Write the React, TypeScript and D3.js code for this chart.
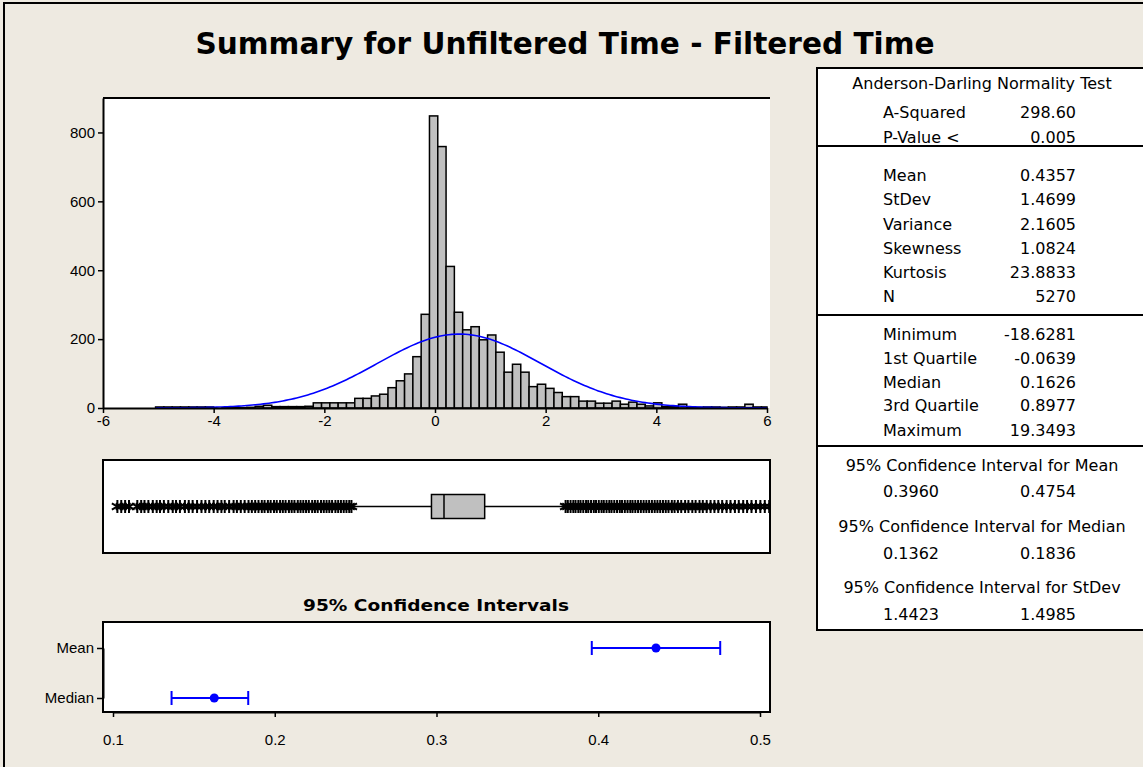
import React, { useRef, useEffect } from "react";
import * as d3 from "d3";

// histogram: bins of width 0.15 starting at -5.05
const binStart = -5.05;
const binWidth = 0.15;
const binCounts = [
  3, 3, 3, 3, 3, 3, 3, 0, 1, 1, 1, 2, 5, 8, 4, 4, 4, 4, 5, 15,
  15, 15, 15, 15, 28, 28, 35, 40, 59, 79, 99, 149, 272, 848, 759, 411, 278, 227, 236, 198,
  212, 162, 104, 127, 104, 62, 69, 57, 45, 33, 33, 20, 20, 14, 14, 20, 11, 17, 11, 6,
  15, 4, 4, 11, 3, 2, 3, 3, 2, 3, 3, 11, 3, 3,
];
const histYTicks = [0, 200, 400, 600, 800];
const histXTicks = [-6, -4, -2, 0, 2, 4, 6];

// summary stats
const mean = 0.4357;
const stDev = 1.4699;
const n = 5270;
const q1 = -0.0639;
const median = 0.1626;
const q3 = 0.8977;
const whiskerLow = -1.5059;
const whiskerHigh = 2.3377;

// boxplot outliers (visible part, -6..6)
const leftOutliers = [
  -5.74, -5.67, -5.6, -5.53, -5.38, -5.31, -5.25, -5.18, -5.1, -5.03, -4.97, -4.9, -4.82, -4.74,
  -4.68, -4.61, -4.52, -4.45, -4.38, -4.3, -4.22, -4.15, -4.08, -4.0, -3.93, -3.86, -3.8, -3.72,
  -3.64, -3.58, -3.51, -3.44, -3.37, -3.31, -3.25, -3.19, -3.13, -3.08, -3.02, -2.97, -2.91,
  -2.86, -2.8, -2.75, -2.7, -2.64, -2.59, -2.54, -2.48, -2.43, -2.38, -2.33, -2.28, -2.22,
  -2.17, -2.12, -2.06, -2.01, -1.96, -1.91, -1.86, -1.8, -1.75, -1.7, -1.65, -1.6, -1.55, -1.51,
];
const rightOutliers = [
  2.36, 2.4, 2.45, 2.5, 2.54, 2.59, 2.63, 2.68, 2.73, 2.77, 2.82, 2.87, 2.91, 2.96, 3.01, 3.05,
  3.1, 3.15, 3.19, 3.24, 3.29, 3.34, 3.38, 3.43, 3.48, 3.53, 3.57, 3.62, 3.67, 3.72, 3.77, 3.82,
  3.87, 3.92, 3.97, 4.02, 4.07, 4.12, 4.17, 4.22, 4.28, 4.33, 4.39, 4.45, 4.52, 4.58, 4.65,
  4.71, 4.78, 4.84, 4.91, 4.98, 5.05, 5.12, 5.19, 5.27, 5.34, 5.42, 5.49, 5.57, 5.64, 5.72,
  5.8, 5.88, 5.96, 6.04,
];

// confidence intervals
const ciNames = ["Mean", "Median"];
const ciCenters = [0.4357, 0.1626];
const ciLows = [0.396, 0.1362];
const ciHighs = [0.4754, 0.1836];
const ciTicks = [0.1, 0.2, 0.3, 0.4, 0.5];

// table
const adRows = [["A-Squared", "298.60"], ["P-Value <", "0.005"]];
const momentRows = [
  ["Mean", "0.4357"], ["StDev", "1.4699"], ["Variance", "2.1605"],
  ["Skewness", "1.0824"], ["Kurtosis", "23.8833"], ["N", "5270"],
];
const quantRows = [
  ["Minimum", "-18.6281"], ["1st Quartile", "-0.0639"], ["Median", "0.1626"],
  ["3rd Quartile", "0.8977"], ["Maximum", "19.3493"],
];
const ciTable = [
  ["95% Confidence Interval for Mean", "0.3960", "0.4754"],
  ["95% Confidence Interval for Median", "0.1362", "0.1836"],
  ["95% Confidence Interval for StDev", "1.4423", "1.4985"],
];

const BG = "#EEEAE1";
const tickFont = "'Liberation Sans', Arial, sans-serif";
const tableFont = "'DejaVu Sans', Verdana, sans-serif";

const Axis = ({ axis, transform, size = 15 }) => {
  const ref = useRef(null);
  useEffect(() => {
    const g = d3.select(ref.current);
    g.call(axis);
    g.attr("font-family", tickFont).attr("font-size", size);
    g.selectAll("text").attr("fill", "#000");
    g.selectAll("line").attr("stroke", "#000").attr("stroke-width", 1.5);
    g.selectAll(".domain").attr("stroke", "#000").attr("stroke-width", 2);
  }, [axis]);
  return <g ref={ref} transform={transform} />;
};

const App = () => {
  const x = d3.scaleLinear().domain([-6, 6]).range([103, 767]);
  const y = d3.scaleLinear().domain([0, 900]).range([408, 98]);
  const xCI = d3.scaleLinear().domain([0.1, 0.5]).range([113, 760]);
  const yCI = d3.scalePoint().domain(ciNames).range([648, 698]);

  const bins = binCounts.map((c, i) => {
    const x0 = Math.max(-6, binStart + i * binWidth);
    const x1 = Math.min(6, binStart + (i + 1) * binWidth);
    return { x0, x1, c };
  });

  const normal = d3.range(binStart, 6.001, 0.05).map((v) => [
    v,
    (n * binWidth) / (stDev * Math.sqrt(2 * Math.PI)) * Math.exp(-0.5 * ((v - mean) / stDev) ** 2),
  ]);
  const normalLine = d3.line().x((d) => x(d[0])).y((d) => y(d[1]));

  const star = d3.symbol(d3.symbolAsterisk, 115)();
  const boxMid = 506.5;

  const plain = (d) => String(d);
  const histX = d3.axisBottom(x).tickValues(histXTicks).tickFormat(plain).tickSize(5).tickSizeOuter(0).tickPadding(2);
  const histY = d3.axisLeft(y).tickValues(histYTicks).tickFormat(plain).tickSize(5).tickSizeOuter(0).tickPadding(3);
  const ciX = d3.axisBottom(xCI).tickValues(ciTicks).tickFormat(d3.format(".1f")).tickSize(5).tickSizeOuter(0).tickPadding(17);
  const ciY = d3.axisLeft(yCI).tickSize(6).tickSizeOuter(0).tickPadding(3);

  const rowY1 = [113, 137.5];
  const rowY2 = [176, 200, 225, 248.5, 272.5, 296.5];
  const rowY3 = [334.5, 358.5, 382.5, 406, 430.5];
  const ciHeadY = [466, 527, 588];
  const ciValY = [492, 554, 615];

  return (
    <svg width={1143} height={767} style={{ position: "absolute", left: 0, top: 0 }}>
      <defs>
        <clipPath id="boxclip">
          <rect x={104} y={461} width={665} height={91} />
        </clipPath>
        <clipPath id="histclip">
          <rect x={103} y={90} width={668} height={318} />
        </clipPath>
      </defs>
      <rect width={1143} height={767} fill={BG} />
      <rect x={4} y={3} width={1160} height={800} fill="none" stroke="#000" strokeWidth={2} />

      <text x={565} y={54} textAnchor="middle" fontFamily="'DejaVu Sans', sans-serif"
        fontWeight="bold" fontSize={31} textLength={739} lengthAdjust="spacingAndGlyphs">
        Summary for Unfiltered Time - Filtered Time
      </text>

      {/* histogram */}
      <rect x={103} y={98} width={667} height={310} fill="#fff" />
      <g clipPath="url(#histclip)">
        {bins.filter((b) => b.c > 0).map((b, i) => (
          <rect key={i} x={x(b.x0)} y={y(b.c)} width={x(b.x1) - x(b.x0)} height={y(0) - y(b.c)}
            fill="#C0C0C0" stroke="#000" strokeWidth={1.5} />
        ))}
        <path d={normalLine(normal)} fill="none" stroke="#0000FF" strokeWidth={1.6} />
      </g>
      <line x1={103} x2={770} y1={98} y2={98} stroke="#000" strokeWidth={2} />
      <Axis axis={histX} transform="translate(0,408)" />
      <Axis axis={histY} transform="translate(103,0)" />

      {/* boxplot */}
      <rect x={103} y={460} width={667} height={93} fill="#fff" stroke="#000" strokeWidth={2} />
      <g clipPath="url(#boxclip)">
        <line x1={x(whiskerLow)} x2={x(q1)} y1={boxMid} y2={boxMid} stroke="#000" strokeWidth={1.5} />
        <line x1={x(q3)} x2={x(whiskerHigh)} y1={boxMid} y2={boxMid} stroke="#000" strokeWidth={1.5} />
        <rect x={x(q1)} y={boxMid - 12} width={x(q3) - x(q1)} height={24} fill="#C0C0C0" stroke="#000" strokeWidth={1.5} />
        <line x1={x(median)} x2={x(median)} y1={boxMid - 12} y2={boxMid + 12} stroke="#000" strokeWidth={1.5} />
        {[...leftOutliers, ...rightOutliers].map((v, i) => (
          <path key={i} d={star} transform={`translate(${x(v)},${boxMid})`} fill="none" stroke="#000" strokeWidth={2} />
        ))}
      </g>

      {/* confidence intervals */}
      <text x={436} y={611} textAnchor="middle" fontFamily="'DejaVu Sans', sans-serif" fontWeight="bold"
        fontSize={15.5} textLength={266} lengthAdjust="spacingAndGlyphs">
        95% Confidence Intervals
      </text>
      <rect x={103} y={622} width={667} height={90} fill="#fff" stroke="#000" strokeWidth={2} />
      {ciNames.map((name, i) => {
        const cy = yCI(name);
        return (
          <g key={name} stroke="#0000FF" strokeWidth={2}>
            <line x1={xCI(ciLows[i])} x2={xCI(ciHighs[i])} y1={cy} y2={cy} />
            <line x1={xCI(ciLows[i])} x2={xCI(ciLows[i])} y1={cy - 7} y2={cy + 7} />
            <line x1={xCI(ciHighs[i])} x2={xCI(ciHighs[i])} y1={cy - 7} y2={cy + 7} />
            <circle cx={xCI(ciCenters[i])} cy={cy} r={4.5} fill="#0000FF" stroke="none" />
          </g>
        );
      })}
      <Axis axis={ciX} transform="translate(0,712)" />
      <Axis axis={ciY} transform="translate(103,0)" />

      {/* summary table */}
      <g fontFamily={tableFont} fontSize={16} fill="#000">
        <rect x={817} y={68} width={340} height={562} fill="#fff" stroke="#000" strokeWidth={2} />
        <line x1={817} x2={1145} y1={146} y2={146} stroke="#000" strokeWidth={2} />
        <line x1={817} x2={1145} y1={315} y2={315} stroke="#000" strokeWidth={2} />
        <line x1={817} x2={1145} y1={446} y2={446} stroke="#000" strokeWidth={2} />
        <text x={982} y={89} textAnchor="middle">Anderson-Darling Normality Test</text>
        {adRows.map((r, i) => (
          <g key={r[0]}>
            <text x={883} y={rowY1[i] + 5}>{r[0]}</text>
            <text x={1076} y={rowY1[i] + 5} textAnchor="end">{r[1]}</text>
          </g>
        ))}
        {momentRows.map((r, i) => (
          <g key={r[0]}>
            <text x={883} y={rowY2[i] + 5}>{r[0]}</text>
            <text x={1076} y={rowY2[i] + 5} textAnchor="end">{r[1]}</text>
          </g>
        ))}
        {quantRows.map((r, i) => (
          <g key={r[0]}>
            <text x={883} y={rowY3[i] + 5}>{r[0]}</text>
            <text x={1076} y={rowY3[i] + 5} textAnchor="end">{r[1]}</text>
          </g>
        ))}
        {ciTable.map((r, i) => (
          <g key={r[0]}>
            <text x={982} y={ciHeadY[i] + 5} textAnchor="middle">{r[0]}</text>
            <text x={883} y={ciValY[i] + 5}>{r[1]}</text>
            <text x={1076} y={ciValY[i] + 5} textAnchor="end">{r[2]}</text>
          </g>
        ))}
      </g>
    </svg>
  );
};

export default App;
